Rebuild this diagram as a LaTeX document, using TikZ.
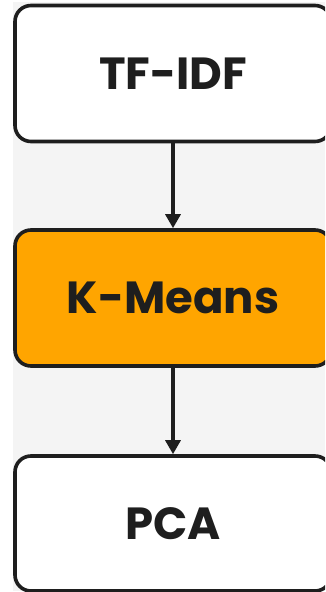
\documentclass[tikz,border=0pt]{standalone}
\usepackage{fontspec}
\setmainfont{Poppins}
\usetikzlibrary{arrows.meta}
\definecolor{bgc}{HTML}{F4F4F4}
\definecolor{orng}{HTML}{FFA500}
\definecolor{ink}{HTML}{1E1E1E}
\tikzset{
  stepbox/.style={draw=ink, line width=3.6pt, rounded corners=16pt, fill=white,
    minimum width=316pt, minimum height=136pt, inner sep=0pt,
    font=\fontsize{45}{50}\selectfont\bfseries, text=ink},
  flow/.style={draw=ink, line width=3.2pt, -{Triangle[width=15pt,length=14pt]}}
}
\begin{document}
\begin{tikzpicture}[x=1pt,y=1pt]
\useasboundingbox (0,0) rectangle (325,592);
\clip (0,0) rectangle (325,592);
\fill[bgc] (13,1) rectangle (325,590);
\node[stepbox] (tfidf) at (173,518.5) {TF-IDF};
\node[stepbox, fill=orng] (kmeans) at (173,294) {K-Means};
\node[stepbox, minimum height=135pt] (pca) at (173,68.5) {PCA};
\draw[flow] (tfidf) -- (kmeans);
\draw[flow] (kmeans) -- (pca);
\end{tikzpicture}
\end{document}
